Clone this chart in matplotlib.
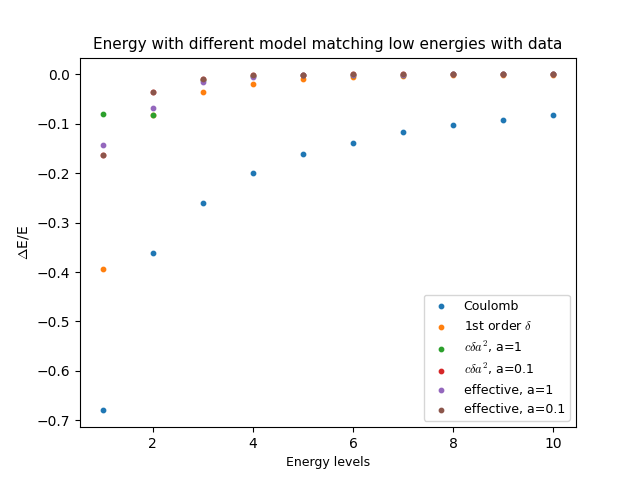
import matplotlib
matplotlib.use("Agg")
import matplotlib.pyplot as plt

plt.rcParams['mathtext.fontset'] = 'cm'
plt.rcParams['font.size'] = 9

levels = [1, 2, 3, 4, 5, 6, 7, 8, 9, 10]
coulomb = [-0.680, -0.362, -0.261, -0.200, -0.162, -0.138, -0.117, -0.103, -0.092, -0.083]
first_order = [-0.393, -0.083, -0.036, -0.019, -0.010, -0.005, -0.003, -0.002, -0.001, -0.001]
cda2_a1 = [-0.080, -0.082, -0.012, -0.004, -0.002, -0.001, -0.001, 0.0, 0.0, 0.0]
cda2_a01 = [-0.163, -0.036, -0.009, -0.002, -0.001, 0.0, 0.0, 0.0, 0.0, 0.0]
eff_a1 = [-0.142, -0.068, -0.015, -0.005, -0.002, -0.001, -0.001, 0.0, 0.0, 0.0]
eff_a01 = [-0.163, -0.036, -0.009, -0.002, -0.001, 0.0, 0.0, 0.0, 0.0, 0.0]

series = [
    (coulomb, "Coulomb"),
    (first_order, r"1st order $\delta$"),
    (cda2_a1, r"$c\delta a^2$, a=1"),
    (cda2_a01, r"$c\delta a^2$, a=0.1"),
    (eff_a1, "effective, a=1"),
    (eff_a01, "effective, a=0.1"),
]

fig, ax = plt.subplots(figsize=(6.4, 4.8), dpi=100)
for vals, label in series:
    ax.scatter(levels, vals, s=10, label=label)
ax.set_title("Energy with different model matching low energies with data", fontsize=11)
ax.set_xlabel("Energy levels")
ax.set_ylabel(r"$\Delta$E/E", fontsize=10)
ax.tick_params(labelsize=10)
ax.legend(loc="lower right")
fig.savefig("out.png")
